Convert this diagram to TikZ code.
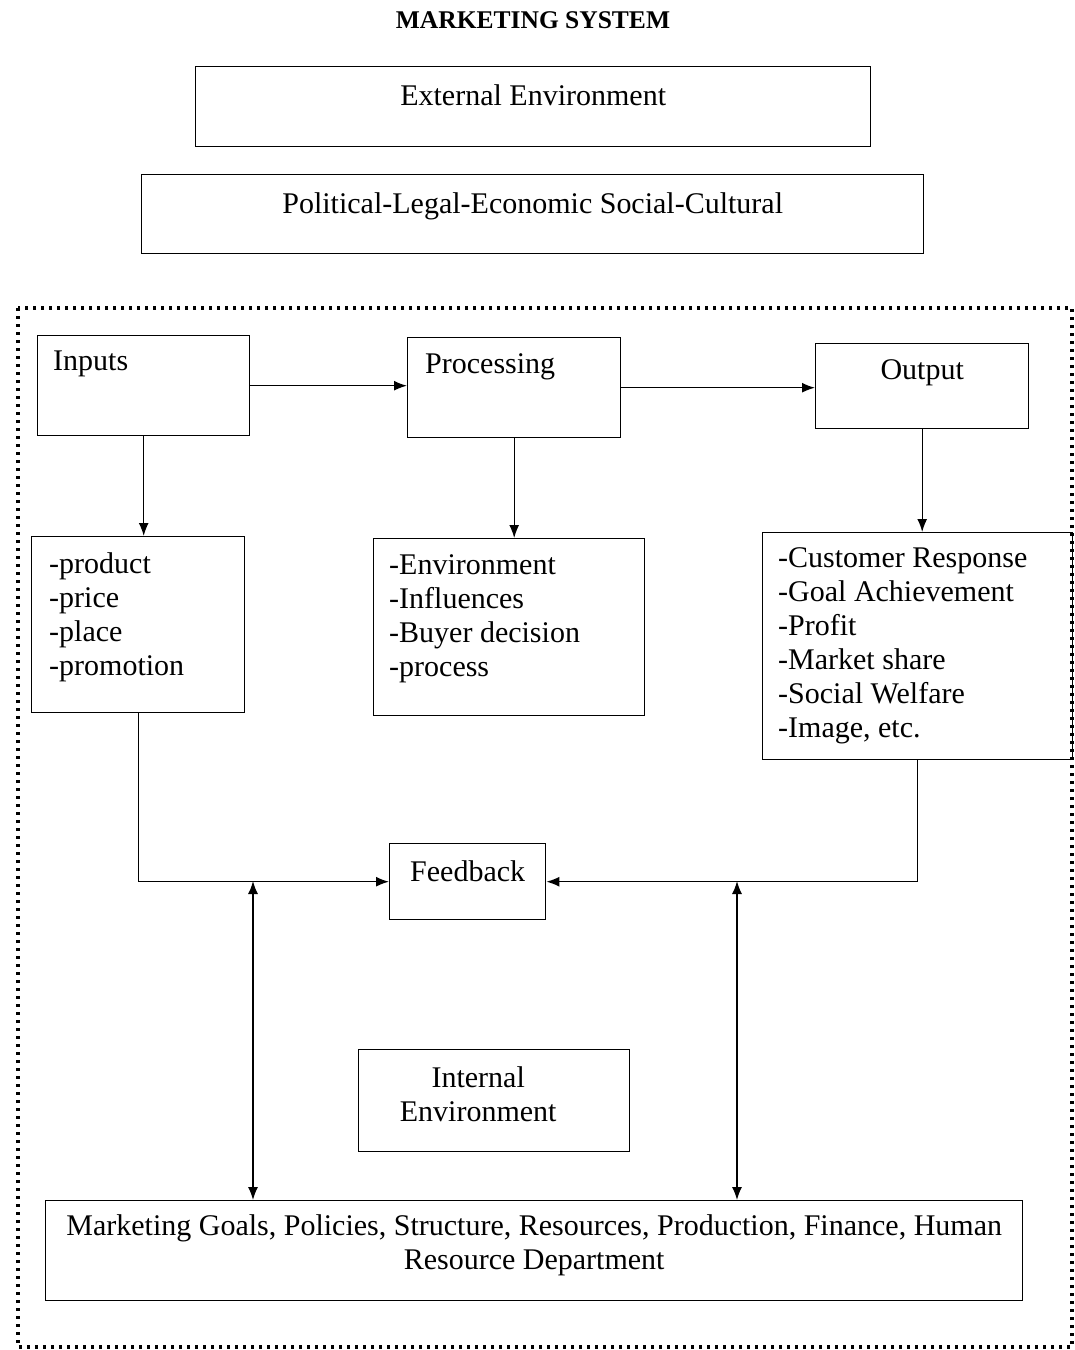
\documentclass[tikz,border=0pt]{standalone}
\usepackage{fontspec}
\setmainfont{Liberation Serif}
\usetikzlibrary{arrows.meta,positioning}
\begin{document}
\begin{tikzpicture}[x=1pt,y=-1pt,>={Latex[length=13pt,width=10pt]},font=\fontsize{30}{34}\selectfont,box/.style={draw,line width=1.4pt,inner sep=0pt,anchor=north west},toplabel/.style={anchor=north,inner sep=0pt,yshift=-16pt},listlabel/.style={anchor=north west,align=left,inner sep=0pt,xshift=16pt,yshift=-16pt},wire/.style={->,line width=1.4pt}]
\useasboundingbox (0,0) rectangle (1075,1350);
\node[font=\bfseries\fontsize{25.5}{30}\selectfont] (title) at (533,20) {MARKETING SYSTEM};
\node[box,minimum width=675pt,minimum height=80pt,label={[toplabel,yshift=-2pt]north:External Environment}] (ext) at (195,66) {};
\node[box,minimum width=782pt,minimum height=79pt,label={[toplabel,yshift=-2pt]north:Political-Legal-Economic Social-Cultural}] (pest) at (141,174) {};
\draw[line width=3.5pt,dash pattern=on 3pt off 5pt] (18,308) rectangle (1072,1347);
\node[box,minimum width=212pt,minimum height=100pt,label={[toplabel,anchor=north west,xshift=16pt]north west:Inputs}] (inputs) at (37,335) {};
\node[box,minimum width=213pt,minimum height=100pt,label={[toplabel,anchor=north west,xshift=18pt]north west:Processing}] (proc) at (407,337) {};
\node[box,minimum width=213pt,minimum height=85pt,label={[toplabel]north:Output}] (out) at (815,343) {};
\node[box,minimum width=213pt,minimum height=176pt,label={[listlabel,xshift=2pt]north west:{-product\\-price\\-place\\-promotion}}] (mix) at (31,536) {};
\node[box,minimum width=271pt,minimum height=177pt,label={[listlabel]north west:{-Environment\\-Influences\\-Buyer decision\\-process}}] (buyer) at (373,538) {};
\node[box,minimum width=310pt,minimum height=227pt,label={[listlabel,yshift=1pt]north west:{-Customer Response\\-Goal Achievement\\-Profit\\-Market share\\-Social Welfare\\-Image, etc.}}] (results) at (762,532) {};
\node[box,minimum width=156pt,minimum height=76pt,label={[toplabel,yshift=-1pt]north:Feedback}] (feedback) at (389,843) {};
\node[box,minimum width=271pt,minimum height=102pt,label={[align=center,inner sep=0pt,xshift=-16pt,yshift=6pt]center:{Internal\\Environment}}] (internal) at (358,1049) {};
\node[box,minimum width=977pt,minimum height=100pt,label={[align=center,inner sep=0pt,yshift=5pt]center:{Marketing Goals, Policies, Structure, Resources, Production, Finance, Human\\Resource Department}}] (goals) at (45,1200) {};
\draw[wire] (inputs.east) -- (inputs.east -| proc.west);
\draw[wire] (proc.east) -- (proc.east -| out.west);
\draw[wire] (inputs.south) -- (inputs.south |- mix.north);
\draw[wire] (proc.south) -- (proc.south |- buyer.north);
\draw[wire] (out.south) -- (out.south |- results.north);
\draw[wire] (mix.south) |- (feedback.west);
\draw[wire] (results.south) |- (feedback.east);
\coordinate (leftjoint) at (253,881);
\coordinate (rightjoint) at (737,881);
\draw[wire,<->] (leftjoint) -- (leftjoint |- goals.north);
\draw[wire,<->] (rightjoint) -- (rightjoint |- goals.north);
\end{tikzpicture}
\end{document}
